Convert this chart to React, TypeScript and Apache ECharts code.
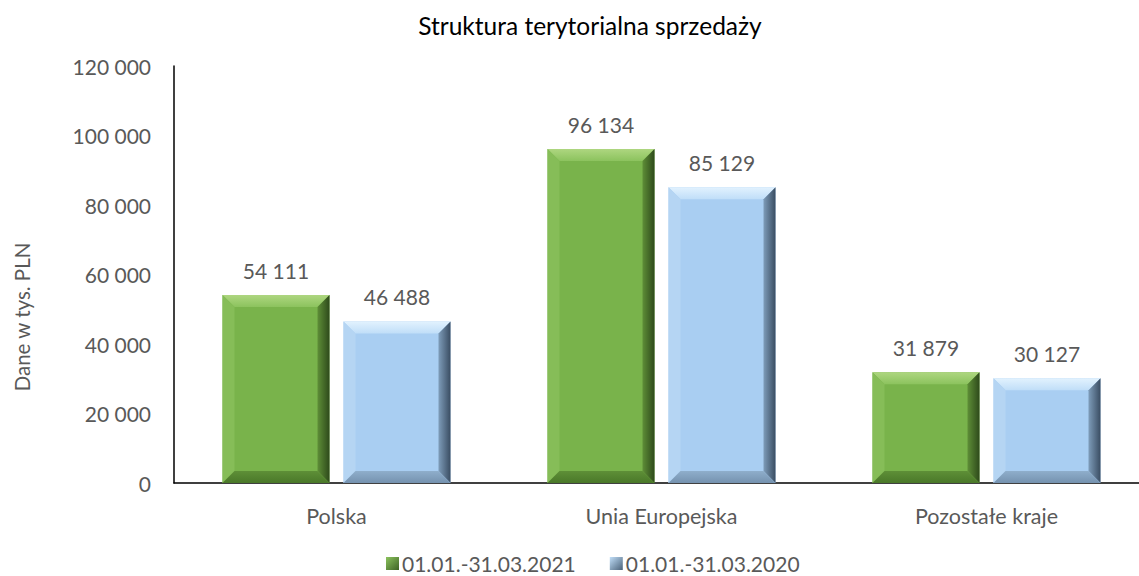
import React, { useEffect, useRef } from "react";
import * as echarts from "echarts";

const categories = ["Polska", "Unia Europejska", "Pozostałe kraje"];
const series2021 = [54111, 96134, 31879];
const series2020 = [46488, 85129, 30127];
const seriesNames = ["01.01.-31.03.2021", "01.01.-31.03.2020"];
const yTicks = { min: 0, max: 120000, interval: 20000 };
const yAxisTitle = "Dane w tys. PLN";
const chartTitle = "Struktura terytorialna sprzedaży";

const fmt = (v: number) => String(v).replace(/\B(?=(\d{3})+(?!\d))/g, " ");

const palettes = [
  {
    main: "#79B34B",
    topA: "#AED680",
    topB: "#8CC35E",
    left: "#86BD58",
    rightA: "#5E8E37",
    rightB: "#2E4A1B",
    bottomA: "#5E8F37",
    bottomB: "#4A7829",
  },
  {
    main: "#A9CEF2",
    topA: "#E2F2FE",
    topB: "#C0DEF8",
    left: "#B5D5F3",
    rightA: "#7E9CB9",
    rightB: "#3A4D62",
    bottomA: "#8FAECB",
    bottomB: "#7592AF",
  },
];

function makeRender(sign: number, pal: any) {
  return (params: any, api: any) => {
    const cat = api.value(0);
    const val = api.value(1);
    const base = api.coord([cat, 0]);
    const top = api.coord([cat, val]);
    const band = api.size([1, 0])[0];
    const w = (band * 107) / 325;
    const off = ((band * 60.5) / 325) * sign;
    const x0 = base[0] + off - w / 2;
    const x1 = x0 + w;
    const y0 = top[1];
    const y1 = base[1];
    const b = Math.min(12, (y1 - y0) / 2, w / 2);
    const lg = (x1_: number, y1_: number, x2_: number, y2_: number, a: string, c: string) => ({
      type: "linear",
      x: x1_,
      y: y1_,
      x2: x2_,
      y2: y2_,
      colorStops: [
        { offset: 0, color: a },
        { offset: 1, color: c },
      ],
    });
    return {
      type: "group",
      children: [
        { type: "rect", shape: { x: x0, y: y0, width: w, height: y1 - y0 }, style: { fill: pal.main } },
        {
          type: "polygon",
          shape: { points: [[x0, y0], [x1, y0], [x1 - b, y0 + b], [x0 + b, y0 + b]] },
          style: { fill: lg(0, 0, 0, 1, pal.topA, pal.topB) },
        },
        {
          type: "polygon",
          shape: { points: [[x0, y0], [x0 + b, y0 + b], [x0 + b, y1 - b], [x0, y1]] },
          style: { fill: pal.left },
        },
        {
          type: "polygon",
          shape: { points: [[x1, y0], [x1, y1], [x1 - b, y1 - b], [x1 - b, y0 + b]] },
          style: { fill: lg(0, 0, 1, 0, pal.rightA, pal.rightB) },
        },
        {
          type: "polygon",
          shape: { points: [[x0, y1], [x1, y1], [x1 - b, y1 - b], [x0 + b, y1 - b]] },
          style: { fill: lg(0, 0, 0, 1, pal.bottomA, pal.bottomB) },
        },
        {
          type: "text",
          x: x0 + w / 2,
          y: y0 - 14,
          style: {
            text: fmt(val),
            fill: "#595959",
            font: "21px Lato, 'Open Sans', sans-serif",
            align: "center",
            verticalAlign: "bottom",
          },
        },
      ],
    };
  };
}

export default function App() {
  const ref = useRef<HTMLDivElement>(null);
  useEffect(() => {
    if (!ref.current) return;
    const chart = echarts.init(ref.current, null, { renderer: "svg" });
    const font = "Lato, 'Open Sans', sans-serif";
    chart.setOption({
      animation: false,
      backgroundColor: "#ffffff",
      title: {
        text: chartTitle,
        left: "center",
        top: 8,
        textStyle: { fontFamily: font, fontSize: 24.5, fontWeight: "normal", color: "#000000" },
      },
      graphic: [
        {
          type: "text",
          x: 22,
          y: 317,
          rotation: Math.PI / 2,
          style: {
            text: yAxisTitle,
            fill: "#595959",
            font: "20.5px Lato, 'Open Sans', sans-serif",
            align: "center",
            verticalAlign: "middle",
          },
        },
      ],
      legend: {
        left: 381,
        top: 548,
        itemWidth: 13,
        itemHeight: 13,
        itemGap: 34,
        icon: "rect",
        textStyle: { fontFamily: font, fontSize: 21, lineHeight: 18, color: "#595959", padding: [0, 0, 0, -2] },
        data: [
          {
            name: seriesNames[0],
            itemStyle: {
              color: {
                type: "linear", x: 0, y: 0, x2: 1, y2: 1,
                colorStops: [{ offset: 0, color: "#8CC35E" }, { offset: 1, color: "#3E6325" }],
              },
            },
          },
          {
            name: seriesNames[1],
            itemStyle: {
              color: {
                type: "linear", x: 0, y: 0, x2: 1, y2: 1,
                colorStops: [{ offset: 0, color: "#C0DEF8" }, { offset: 1, color: "#4A6178" }],
              },
            },
          },
        ],
      },
      grid: { left: 174, top: 66, width: 975, height: 417, containLabel: false },
      xAxis: {
        type: "category",
        data: categories,
        axisLine: { lineStyle: { color: "#000000", width: 1.5 } },
        axisTick: { show: false },
        axisLabel: { margin: 22, fontFamily: font, fontSize: 21.5, color: "#595959" },
      },
      yAxis: {
        type: "value",
        min: yTicks.min,
        max: yTicks.max,
        interval: yTicks.interval,
        axisLine: { show: true, lineStyle: { color: "#000000", width: 1.5 } },
        axisTick: { show: false },
        splitLine: { show: false },
        axisLabel: {
          margin: 23,
          fontFamily: font,
          fontSize: 21,
          color: "#595959",
          formatter: (v: number) => fmt(v),
        },
      },
      series: [
        {
          name: seriesNames[0],
          type: "custom",
          renderItem: makeRender(-1, palettes[0]),
          itemStyle: { color: "#79B34B" },
          encode: { x: 0, y: 1 },
          data: series2021.map((v, i) => [i, v]),
        },
        {
          name: seriesNames[1],
          type: "custom",
          renderItem: makeRender(1, palettes[1]),
          itemStyle: { color: "#A9CEF2" },
          encode: { x: 0, y: 1 },
          data: series2020.map((v, i) => [i, v]),
        },
      ],
    });
    return () => chart.dispose();
  }, []);
  return (
    <div
      ref={ref}
      style={{ position: "fixed", left: 0, top: 0, width: 1180, height: 576, background: "#fff" }}
    />
  );
}
